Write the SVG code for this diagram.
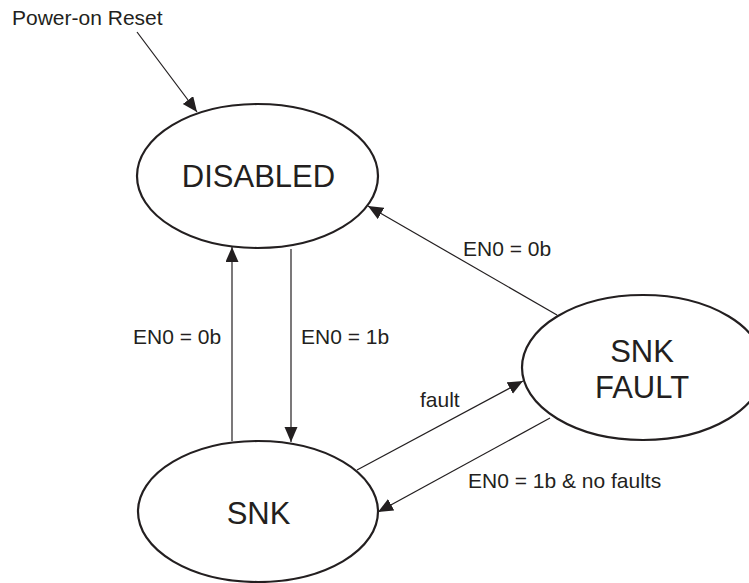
<svg xmlns="http://www.w3.org/2000/svg" width="749" height="583" viewBox="0 0 749 583">
<style>
.node ellipse{fill:#fff;stroke:#231f20;stroke-width:2.2}
.ntext{font-family:"Liberation Sans",Arial,sans-serif;font-size:31px;fill:#231f20;text-anchor:middle}
.lbl{font-family:"Liberation Sans",Arial,sans-serif;font-size:21px;fill:#231f20}
#connectors line{stroke:#231f20;stroke-width:1.2;fill:none;marker-end:url(#arr)}
</style>
<defs>
<marker id="arr" markerUnits="userSpaceOnUse" markerWidth="16" markerHeight="14" refX="15" refY="6.5" orient="auto">
<path d="M0,0 L15,6.5 L0,13 Z" fill="#231f20"/>
</marker>
</defs>
<rect width="749" height="583" fill="#fff"/>
<g id="connectors">
<line x1="137" y1="32" x2="197" y2="112"/>
<line x1="291" y1="249" x2="291" y2="442"/>
<line x1="232" y1="441" x2="232" y2="247"/>
<line x1="557" y1="315" x2="368" y2="206"/>
<line x1="357" y1="470" x2="523" y2="381"/>
<line x1="550" y1="418" x2="378" y2="512"/>
</g>
<g id="labels">
<text class="lbl" x="12" y="25">Power-on Reset</text>
<text class="lbl" x="133" y="344">EN0 = 0b</text>
<text class="lbl" x="301" y="344">EN0 = 1b</text>
<text class="lbl" x="463" y="256">EN0 = 0b</text>
<text class="lbl" x="420" y="407">fault</text>
<text class="lbl" x="468" y="488">EN0 = 1b &amp; no faults</text>
</g>
<g id="node-disabled" class="node">
<ellipse cx="257.5" cy="176" rx="120.5" ry="72"/>
<text class="ntext" x="258.5" y="187">DISABLED</text>
</g>
<g id="node-snk" class="node">
<ellipse cx="258" cy="511.5" rx="120" ry="70.5"/>
<text class="ntext" x="258.5" y="524">SNK</text>
</g>
<g id="node-snkfault" class="node">
<ellipse cx="643" cy="367.5" rx="121" ry="72.5"/>
<text class="ntext" x="642" y="362">SNK</text>
<text class="ntext" x="642" y="398">FAULT</text>
</g>
</svg>
